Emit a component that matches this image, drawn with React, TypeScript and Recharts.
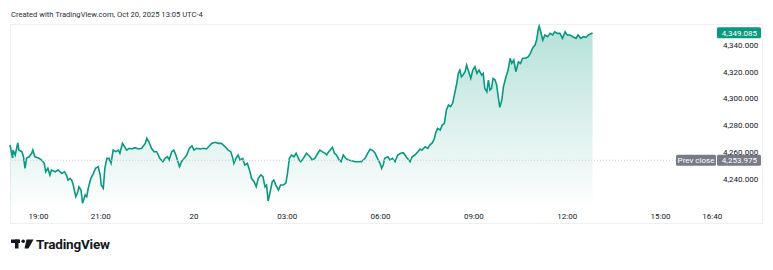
import { AreaChart, Area, XAxis, YAxis, ReferenceLine } from 'recharts';

// minutes since the 18:00 session open
const minutes = [
  5, 10, 11, 15, 20, 22, 28, 31, 34, 37, 42, 47, 49, 53, 60, 66, 71, 74, 78, 82,
  85, 92, 98, 105, 110, 114, 117, 121, 124, 127, 132, 136, 138, 142, 145, 150, 153, 156, 161, 166,
  170, 175, 179, 181, 185, 188, 192, 196, 200, 204, 209, 214, 217, 222, 226, 230, 235, 240, 246, 253,
  259, 266, 269, 273, 278, 283, 288, 294, 300, 304, 309, 312, 317, 321, 325, 332, 336, 341, 346, 351,
  356, 360, 365, 372, 378, 384, 390, 394, 401, 407, 413, 420, 426, 431, 435, 437, 441, 445, 449, 454,
  458, 463, 468, 471, 476, 480, 484, 489, 493, 497, 500, 503, 507, 511, 514, 518, 523, 527, 532, 537,
  540, 544, 548, 553, 557, 563, 566, 571, 577, 584, 588, 593, 599, 603, 607, 613, 616, 620, 627, 631,
  635, 640, 644, 648, 653, 658, 664, 671, 677, 683, 690, 695, 700, 704, 709, 714, 719, 722, 725, 728,
  734, 738, 743, 748, 753, 759, 764, 770, 777, 781, 786, 792, 796, 800, 806, 811, 815, 820, 824, 826,
  830, 835, 839, 843, 847, 851, 855, 859, 863, 867, 870, 873, 876, 879, 883, 886, 889, 894, 898, 902,
  906, 910, 915, 918, 921, 925, 928, 931, 934, 937, 941, 944, 947, 950, 954, 957, 962, 966, 970, 973,
  977, 981, 986, 990, 994, 1000, 1005, 1009, 1013, 1018, 1021, 1024, 1026, 1029, 1033, 1037, 1042, 1047, 1052, 1056,
  1061, 1066, 1071, 1076, 1080, 1085, 1091, 1097, 1101, 1106, 1111, 1116, 1121, 1125, 1129,
];

const prices = [
  4265.4, 4255.7, 4261.6, 4257.9, 4266.9, 4261.6, 4260.4, 4256.6, 4248.0, 4255.7,
  4256.6, 4259.4, 4261.6, 4256.6, 4255.7, 4254.2, 4251.7, 4245.4, 4248.0, 4243.0,
  4246.7, 4245.4, 4246.7, 4244.2, 4245.4, 4243.0, 4239.2, 4240.5, 4239.2, 4235.5,
  4226.8, 4230.5, 4234.2, 4231.8, 4221.9, 4228.1, 4226.8, 4233.1, 4240.5, 4244.2,
  4248.0, 4249.2, 4243.0, 4235.5, 4233.1, 4248.0, 4255.4, 4255.4, 4251.7, 4261.6,
  4260.4, 4261.6, 4259.2, 4266.6, 4264.1, 4261.6, 4262.9, 4262.4, 4263.4, 4262.4,
  4262.9, 4266.6, 4270.4, 4267.8, 4262.9, 4260.4,
  4260.4, 4255.4, 4252.9, 4255.4, 4256.6, 4254.2, 4260.4, 4261.6, 4257.9, 4249.2,
  4252.9, 4255.4, 4257.9, 4262.9, 4264.8, 4261.6, 4262.9, 4262.4, 4262.9, 4262.4,
  4264.8, 4266.6, 4267.4, 4266.6, 4266.6, 4264.1, 4261.6, 4260.4, 4255.4, 4251.7,
  4255.4, 4257.9, 4254.2, 4255.4, 4250.4, 4251.7, 4245.4, 4240.5, 4238.0, 4234.2,
  4240.5, 4243.0, 4241.7, 4234.2, 4235.5, 4223.6, 4230.5, 4238.0, 4239.2, 4235.5,
  4231.8, 4235.5, 4235.5, 4236.8, 4243.0, 4255.4, 4257.9, 4256.6, 4259.2, 4254.2,
  4252.9, 4255.4, 4259.2, 4256.6, 4254.2, 4255.4, 4259.2, 4261.6, 4260.4, 4259.2,
  4257.9, 4260.4, 4263.7, 4259.2, 4257.9, 4254.2, 4252.9, 4257.9, 4255.4, 4254.2,
  4253.7, 4252.9, 4252.9, 4252.9, 4255.4, 4259.2, 4262.2, 4261.6, 4259.6, 4255.4,
  4251.7, 4248.0, 4250.4, 4255.4, 4256.6, 4254.2, 4255.4, 4252.9, 4257.9, 4259.2,
  4259.6, 4256.2, 4252.9, 4256.6, 4257.9, 4260.4, 4262.2, 4261.6, 4264.1, 4262.9,
  4265.4, 4267.1, 4270.4, 4274.1, 4277.8, 4276.6, 4280.3, 4281.6,
  4291.5, 4295.2, 4294.0, 4296.5, 4304.0, 4311.4, 4318.9, 4321.3, 4316.3, 4317.6,
  4320.1, 4325.1, 4321.3, 4315.1, 4321.3, 4323.8, 4318.9, 4321.3, 4317.6, 4318.9,
  4307.7, 4305.1, 4313.9, 4306.4, 4307.7, 4315.1, 4313.9, 4310.1, 4301.4, 4293.5,
  4299.0, 4308.9, 4316.3, 4321.3, 4330.1, 4326.3, 4328.8, 4320.1, 4327.5, 4326.3,
  4330.1, 4330.1, 4331.3, 4333.8, 4337.5, 4340.0, 4343.7, 4351.2, 4354.2, 4349.9,
  4343.7, 4347.5, 4346.2, 4348.7, 4347.5, 4349.9, 4348.7, 4348.7, 4345.0, 4349.9,
  4347.5, 4347.5, 4346.2, 4345.0, 4347.5, 4345.0, 4346.2, 4345.7, 4347.5, 4348.2,
  4349.085,
];

const timeTicks = [60, 180, 360, 540, 720, 900, 1080, 1260, 1360];
const timeLabels = ['19:00', '21:00', '20', '03:00', '06:00', '09:00', '12:00', '15:00', '16:40'];
const priceTicks = [4240, 4260, 4280, 4300, 4320, 4340];
const prevClose = 4253.975;
const lastPrice = 4349.085;

const data = minutes.map((t, i) => ({ t, price: prices[i] }));

const FONT = 'Roboto, "Noto Sans", sans-serif';
const TEXT = '#131722';
const GREEN = '#089981';
const GREY = '#787b86';

const fmt = (v: number) =>
  v.toLocaleString('en-US', { minimumFractionDigits: 3, maximumFractionDigits: 3 });

function LastTag(props: any) {
  const { x, y, width } = props.viewBox;
  const left = x + width - 1;
  return (
    <g>
      <rect x={left} y={y - 5.5} width={44} height={11} rx={1.5} fill={GREEN} />
      <text x={left + 40} y={y} dy="0.35em" textAnchor="end" fontSize={8} fontFamily={FONT} fill="#fff">
        {fmt(lastPrice)}
      </text>
    </g>
  );
}

function PrevTag(props: any) {
  const { x, y, width } = props.viewBox;
  const left = x + width - 1;
  return (
    <g>
      <rect x={left - 41} y={y - 5.5} width={40} height={11} rx={1.5} fill={GREY} />
      <text x={left - 21} y={y} dy="0.35em" textAnchor="middle" fontSize={8} fontFamily={FONT} fill="#fff">
        Prev close
      </text>
      <rect x={left} y={y - 5.5} width={44} height={11} rx={1.5} fill={GREY} />
      <text x={left + 40} y={y} dy="0.35em" textAnchor="end" fontSize={8} fontFamily={FONT} fill="#fff">
        {fmt(prevClose)}
      </text>
    </g>
  );
}

export default function App() {
  return (
    <div
      style={{
        position: 'fixed',
        left: 0,
        top: 0,
        width: 773,
        height: 270,
        background: '#fff',
        overflow: 'hidden',
        fontFamily: FONT,
        color: TEXT,
      }}
    >
      <div style={{ position: 'absolute', left: 11, top: 10, fontSize: 7.6, lineHeight: '9px', color: '#2a2e39' }}>
        Created with TradingView.com, Oct 20, 2025 13:05 UTC-4
      </div>
      <div
        style={{
          position: 'absolute',
          left: 10,
          top: 24,
          width: 753,
          height: 200,
          border: '1px solid #eef0f4',
          boxSizing: 'border-box',
        }}
      />
      <div style={{ position: 'absolute', left: 0, top: 0 }}>
        <AreaChart width={773} height={230} data={data} margin={{ top: 24, right: 10, bottom: 0, left: 10 }}>
          <defs>
            <linearGradient id="fillGrad" x1="0" y1="0" x2="0" y2="1">
              <stop offset="0%" stopColor={GREEN} stopOpacity={0.3} />
              <stop offset="100%" stopColor={GREEN} stopOpacity={0.01} />
            </linearGradient>
          </defs>
          <XAxis
            type="number"
            dataKey="t"
            domain={[5, 1371]}
            ticks={timeTicks}
            tickFormatter={(v: number) => timeLabels[timeTicks.indexOf(v)]}
            axisLine={false}
            tickLine={false}
            tickSize={6}
            tickMargin={2}
            height={25}
            interval={0}
            tick={{ fontSize: 8, fill: TEXT, fontFamily: FONT }}
          />
          <YAxis
            orientation="right"
            domain={[4220.6, 4355.7]}
            ticks={priceTicks}
            tickFormatter={fmt}
            axisLine={false}
            tickLine={false}
            tickSize={0}
            tickMargin={5}
            width={45}
            interval={0}
            tick={{ fontSize: 8, fill: TEXT, fontFamily: FONT }}
          />
          <ReferenceLine y={prevClose} stroke="#cfd2da" strokeDasharray="1 2" label={<PrevTag />} />
          <Area
            type="linear"
            dataKey="price"
            stroke={GREEN}
            strokeWidth={1.6}
            fill="url(#fillGrad)"
            fillOpacity={1}
            dot={false}
            activeDot={false}
            isAnimationActive={false}
          />
          <ReferenceLine y={lastPrice} stroke="none" label={<LastTag />} />
        </AreaChart>
      </div>
      <div style={{ position: 'absolute', left: 11, top: 236, display: 'flex', alignItems: 'center' }}>
        <svg width={24} height={12} viewBox="0 0 24 12">
          <rect x={0} y={1.5} width={9} height={3.5} fill={TEXT} />
          <rect x={4} y={1.5} width={3.5} height={9} fill={TEXT} />
          <circle cx={12.2} cy={3.2} r={1.8} fill={TEXT} />
          <polygon points="15.5,1.5 22.5,1.5 17.5,10.5 13.5,10.5" fill={TEXT} />
        </svg>
        <span style={{ marginLeft: 1, fontSize: 13.5, fontWeight: 700, letterSpacing: -0.2, color: TEXT }}>
          TradingView
        </span>
      </div>
    </div>
  );
}
